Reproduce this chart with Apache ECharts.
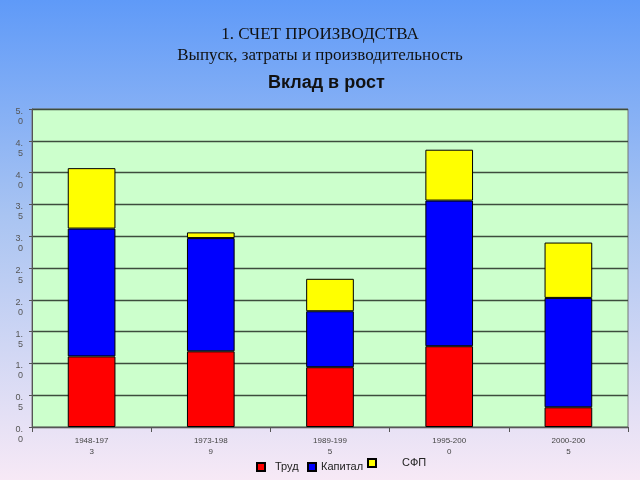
<!DOCTYPE html>
<html><head><meta charset="utf-8">
<script src="https://cdn.jsdelivr.net/npm/echarts@6/dist/echarts.min.js"></script>
<style>html,body{margin:0;padding:0;}#c{width:640px;height:480px;}</style>
</head><body><div id="c"></div>
<script>
const categories = ["1948-1973", "1973-1989", "1989-1995", "1995-2000", "2000-2005"];
const labor = [1.11, 1.19, 0.94, 1.27, 0.31];
const capital = [2.01, 1.78, 0.88, 2.29, 1.72];
const tfp = [0.95, 0.09, 0.51, 0.80, 0.87];
const seriesNames = ["Труд", "Капитал", "СФП"];
const titleLine1 = "1. СЧЕТ ПРОИЗВОДСТВА";
const titleLine2 = "Выпуск, затраты и производительность";
const chartTitle = "Вклад в рост";

const chart = echarts.init(document.getElementById('c'));
const barStyle = c => ({color: c, borderColor: '#000', borderWidth: 1});
const legendText = {fontFamily: 'Liberation Sans', fontSize: 11, color: '#222', lineHeight: 14};
const mkLegend = (name, left, top, pad) => ({
  left: left, top: top, itemWidth: 8, itemHeight: 8,
  textStyle: Object.assign({}, legendText, {padding: pad}),
  data: [{name: name, icon: 'rect'}]
});
chart.setOption({
  backgroundColor: {type: 'linear', x: 0, y: 0, x2: 0, y2: 1, colorStops: [
    {offset: 0, color: '#5f9af8'}, {offset: 0.45, color: '#a9c4f2'}, {offset: 1, color: '#f7e9f6'}]},
  animation: false,
  title: [
    {text: titleLine1 + '\n' + titleLine2, left: 'center', top: 19,
     textStyle: {fontFamily: 'Liberation Serif', fontWeight: 'normal', fontSize: 17, color: '#111', lineHeight: 21}},
    {text: chartTitle, left: 263, top: 69,
     textStyle: {fontFamily: 'Liberation Sans', fontWeight: 'bold', fontSize: 18, color: '#111'}}
  ],
  legend: [
    mkLegend(seriesNames[0], 251, 455, [0, 0, 0, 5]),
    mkLegend(seriesNames[1], 302, 455, [0, 0, 0, 0]),
    mkLegend(seriesNames[2], 362, 449, [0, 0, 4, 21])
  ],
  grid: {left: 32, right: 12, top: 109, bottom: 53, show: true, backgroundColor: '#ccffcc', borderColor: '#777', borderWidth: 1},
  xAxis: {type: 'category', data: categories,
    axisLine: {lineStyle: {color: '#555'}},
    axisTick: {show: true, lineStyle: {color: '#555'}},
    axisLabel: {fontFamily: 'Liberation Sans', fontSize: 8, color: '#444', lineHeight: 11,
      formatter: v => v.slice(0, 8) + '\n' + v.slice(8)}},
  yAxis: {type: 'value', min: 0, max: 5, interval: 0.5,
    axisLine: {show: true, lineStyle: {color: '#555'}},
    axisTick: {show: true, length: 3, lineStyle: {color: '#555'}},
    splitLine: {lineStyle: {color: '#3d4d3d', width: 1.3}},
    axisLabel: {fontFamily: 'Liberation Sans', fontSize: 9, color: '#555', margin: 9,
      rich: {p: {lineHeight: 15, fontSize: 9}, t: {lineHeight: 10, fontSize: 9, color: '#555', fontFamily: 'Liberation Sans'}},
      formatter: v => { const s = v.toFixed(1); return '{p| }\n{t|' + s.slice(0, 2) + '}\n{t|' + s.slice(2) + '}'; }}},
  series: [
    {name: seriesNames[0], type: 'bar', stack: 's', data: labor, barWidth: '40%', itemStyle: barStyle('#ff0000')},
    {name: seriesNames[1], type: 'bar', stack: 's', data: capital, itemStyle: barStyle('#0000ff')},
    {name: seriesNames[2], type: 'bar', stack: 's', data: tfp, itemStyle: barStyle('#ffff00')}
  ]
});
</script></body></html>
